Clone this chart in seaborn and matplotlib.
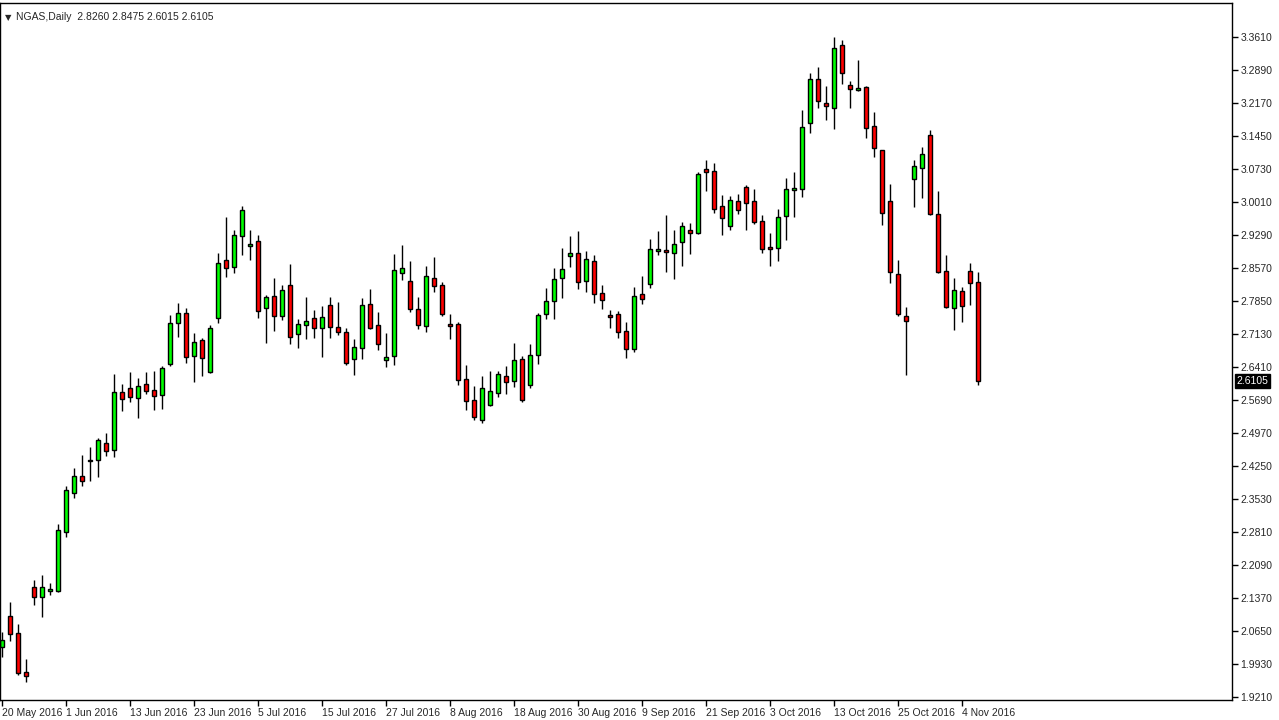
import matplotlib
matplotlib.use("Agg")
import matplotlib.pyplot as plt
import numpy as np
import pandas as pd
import seaborn as sns

# daily NGAS candles
opens = [2.030, 2.098, 2.060, 1.976, 2.161, 2.139, 2.152, 2.152, 2.281, 2.366,
         2.403, 2.436, 2.438, 2.475, 2.460, 2.586, 2.595, 2.573, 2.604, 2.591,
         2.580, 2.648, 2.737, 2.759, 2.665, 2.700, 2.630, 2.748, 2.874, 2.859,
         2.927, 2.905, 2.916, 2.770, 2.796, 2.752, 2.820, 2.713, 2.733, 2.748,
         2.726, 2.776, 2.728, 2.717, 2.659, 2.683, 2.779, 2.733, 2.656, 2.665,
         2.846, 2.829, 2.768, 2.730, 2.835, 2.820, 2.735, 2.735, 2.615, 2.569,
         2.526, 2.558, 2.584, 2.621, 2.611, 2.659, 2.602, 2.667, 2.757, 2.785,
         2.835, 2.883, 2.890, 2.829, 2.872, 2.802, 2.754, 2.757, 2.719, 2.680,
         2.800, 2.822, 2.894, 2.896, 2.890, 2.914, 2.940, 2.933, 3.073, 3.068,
         2.992, 2.949, 3.003, 3.034, 3.003, 2.960, 2.903, 2.901, 2.970, 3.027,
         3.029, 3.173, 3.269, 3.217, 3.206, 3.343, 3.256, 3.245, 3.252, 3.167,
         3.114, 3.003, 2.844, 2.752, 3.051, 3.075, 3.147, 2.975, 2.850, 2.770,
         2.807, 2.850, 2.826]
highs = [2.063, 2.128, 2.080, 2.004, 2.176, 2.187, 2.170, 2.298, 2.381, 2.420,
         2.449, 2.466, 2.486, 2.497, 2.626, 2.604, 2.630, 2.617, 2.630, 2.632,
         2.643, 2.754, 2.781, 2.770, 2.715, 2.704, 2.733, 2.890, 2.968, 2.940,
         2.992, 2.940, 2.929, 2.798, 2.835, 2.820, 2.866, 2.746, 2.794, 2.765,
         2.774, 2.794, 2.783, 2.726, 2.702, 2.792, 2.811, 2.761, 2.715, 2.888,
         2.907, 2.872, 2.794, 2.861, 2.881, 2.827, 2.757, 2.739, 2.646, 2.600,
         2.621, 2.632, 2.632, 2.643, 2.693, 2.665, 2.691, 2.759, 2.813, 2.857,
         2.901, 2.927, 2.938, 2.894, 2.885, 2.820, 2.765, 2.763, 2.739, 2.816,
         2.840, 2.921, 2.938, 2.973, 2.940, 2.957, 2.955, 3.066, 3.093, 3.086,
         3.016, 3.014, 3.018, 3.038, 3.029, 2.973, 2.933, 2.986, 3.053, 3.066,
         3.202, 3.283, 3.296, 3.254, 3.361, 3.354, 3.265, 3.311, 3.254, 3.197,
         3.114, 3.040, 2.874, 2.772, 3.093, 3.121, 3.158, 3.025, 2.885, 2.835,
         2.816, 2.868, 2.8475]
lows = [2.008, 2.043, 1.970, 1.954, 2.122, 2.096, 2.144, 2.150, 2.270, 2.355,
        2.381, 2.392, 2.401, 2.447, 2.445, 2.545, 2.564, 2.530, 2.582, 2.547,
        2.549, 2.643, 2.706, 2.650, 2.608, 2.621, 2.628, 2.737, 2.837, 2.846,
        2.885, 2.874, 2.748, 2.693, 2.719, 2.744, 2.691, 2.683, 2.702, 2.704,
        2.663, 2.704, 2.711, 2.646, 2.624, 2.659, 2.724, 2.678, 2.641, 2.646,
        2.831, 2.761, 2.724, 2.717, 2.805, 2.752, 2.702, 2.602, 2.547, 2.526,
        2.519, 2.556, 2.575, 2.582, 2.597, 2.564, 2.595, 2.648, 2.746, 2.746,
        2.792, 2.859, 2.811, 2.805, 2.781, 2.768, 2.726, 2.704, 2.661, 2.674,
        2.779, 2.813, 2.885, 2.848, 2.833, 2.861, 2.888, 2.931, 3.025, 2.977,
        2.929, 2.940, 2.975, 2.940, 2.953, 2.890, 2.861, 2.872, 2.918, 2.968,
        3.012, 3.151, 3.206, 3.180, 3.160, 3.258, 3.206, 3.243, 3.141, 3.099,
        2.951, 2.824, 2.752, 2.624, 2.990, 3.010, 2.973, 2.846, 2.770, 2.722,
        2.739, 2.776, 2.6015]
closes = [2.045, 2.058, 1.973, 1.967, 2.139, 2.161, 2.156, 2.285, 2.373, 2.403,
          2.392, 2.438, 2.482, 2.458, 2.586, 2.571, 2.575, 2.599, 2.589, 2.578,
          2.639, 2.737, 2.759, 2.663, 2.696, 2.661, 2.726, 2.868, 2.857, 2.929,
          2.984, 2.909, 2.763, 2.794, 2.752, 2.809, 2.706, 2.735, 2.741, 2.726,
          2.750, 2.728, 2.717, 2.650, 2.685, 2.776, 2.726, 2.691, 2.663, 2.853,
          2.857, 2.768, 2.733, 2.840, 2.818, 2.757, 2.731, 2.613, 2.567, 2.532,
          2.595, 2.589, 2.626, 2.608, 2.656, 2.569, 2.667, 2.754, 2.785, 2.833,
          2.855, 2.890, 2.826, 2.877, 2.800, 2.787, 2.750, 2.717, 2.680, 2.796,
          2.789, 2.899, 2.899, 2.892, 2.909, 2.949, 2.933, 3.062, 3.066, 2.986,
          2.966, 3.005, 2.984, 2.999, 2.957, 2.899, 2.899, 2.968, 3.029, 3.031,
          3.165, 3.269, 3.221, 3.210, 3.337, 3.283, 3.247, 3.250, 3.162, 3.119,
          2.977, 2.848, 2.757, 2.741, 3.080, 3.106, 2.975, 2.848, 2.772, 2.809,
          2.774, 2.824, 2.6105]

date_labels = ["20 May 2016", "1 Jun 2016", "13 Jun 2016", "23 Jun 2016",
               "5 Jul 2016", "15 Jul 2016", "27 Jul 2016", "8 Aug 2016",
               "18 Aug 2016", "30 Aug 2016", "9 Sep 2016", "21 Sep 2016",
               "3 Oct 2016", "13 Oct 2016", "25 Oct 2016", "4 Nov 2016"]
price_ticks = [3.3610, 3.2890, 3.2170, 3.1450, 3.0730, 3.0010, 2.9290, 2.8570,
               2.7850, 2.7130, 2.6410, 2.5690, 2.4970, 2.4250, 2.3530, 2.2810,
               2.2090, 2.1370, 2.0650, 1.9930, 1.9210]

df = pd.DataFrame({"open": opens, "high": highs, "low": lows, "close": closes})
df["bar"] = np.arange(len(df))
df["up"] = df["close"] >= df["open"]

sns.set_style("white")
plt.rcParams["font.family"] = ["Liberation Sans", "DejaVu Sans"]

fig = plt.figure(figsize=(12.79, 7.2), dpi=100)
ax = fig.add_axes([0.0, 1 - 700 / 720, 1232 / 1279, 697 / 720])

ax.vlines(df["bar"], df["low"], df["high"], color="black", lw=1, zorder=1)
bottoms = df[["open", "close"]].min(axis=1)
heights = (df["close"] - df["open"]).abs().clip(lower=0.0008)
colors = np.where(df["up"], "#00ff00", "#ff0000")
ax.bar(df["bar"], heights, bottom=bottoms, width=0.6, color=colors,
       edgecolor="black", linewidth=1, zorder=2)

ax.set_xlim(-0.25, 153.75)
ax.set_ylim(1.9145, 3.4352)

ax.yaxis.tick_right()
ax.set_yticks(price_ticks)
ax.set_yticklabels([f"{t:.4f}" for t in price_ticks], fontsize=7.5)
ax.set_xticks(np.arange(0, 8 * len(date_labels), 8))
ax.set_xticklabels(date_labels, fontsize=7.5, ha="left")
ax.tick_params(axis="both", length=4, width=1, color="black", pad=2,
               direction="out", bottom=True, right=True)
for s in ax.spines.values():
    s.set_color("black")
    s.set_linewidth(1)
ax.grid(False)

last = closes[-1]
ax.annotate(f"{last:.4f}", xy=(1.0, last), xycoords=("axes fraction", "data"),
            xytext=(3, 0), textcoords="offset points", va="center", ha="left",
            fontsize=7.5, color="white",
            bbox=dict(boxstyle="square,pad=0.15", fc="black", ec="black"))

ax.text(0.004, 0.985, "\u25bc", transform=ax.transAxes, fontsize=6,
        va="top", ha="left", family="DejaVu Sans")
ax.text(0.013, 0.987, "NGAS,Daily  2.8260 2.8475 2.6015 2.6105",
        transform=ax.transAxes, fontsize=7.5, va="top", ha="left")

fig.savefig("out.png", dpi=100)
